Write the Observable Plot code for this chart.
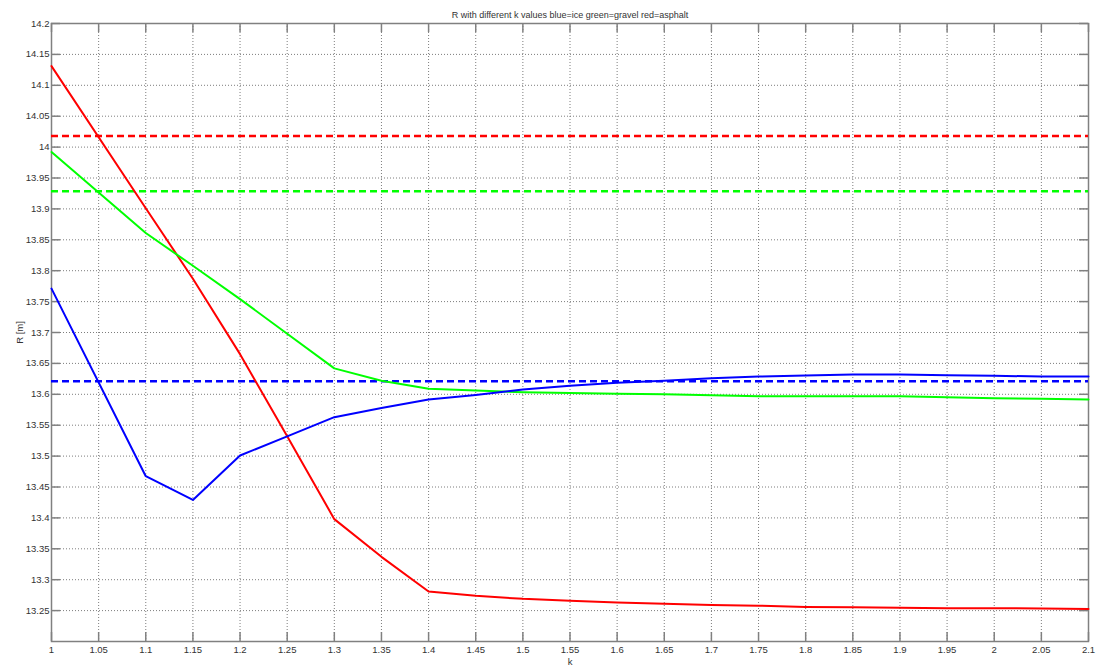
<!DOCTYPE html>
<html><head><meta charset="utf-8">
<script src="https://cdn.jsdelivr.net/npm/d3@7"></script>
<script src="https://cdn.jsdelivr.net/npm/@observablehq/plot@0.6"></script>
<style>body{margin:0;background:#fff} svg{display:block}</style>
</head><body><div id="chart"></div>
<script>
const titleText = "R with different k values blue=ice green=gravel red=asphalt";
const kValues = [1, 1.1, 1.15, 1.2, 1.25, 1.3, 1.35, 1.4, 1.45, 1.5, 1.55, 1.6, 1.65, 1.7, 1.75, 1.8, 1.85, 1.9, 1.95, 2.0, 2.05, 2.1];
const asphaltR = [14.131, 13.901, 13.787, 13.665, 13.532, 13.398, 13.337, 13.281, 13.274, 13.269, 13.266, 13.263, 13.261, 13.259, 13.258, 13.256, 13.2555, 13.2545, 13.254, 13.254, 13.2534, 13.2526];
const gravelR = [13.992, 13.861, 13.808, 13.754, 13.698, 13.642, 13.622, 13.609, 13.606, 13.6034, 13.602, 13.601, 13.600, 13.5985, 13.597, 13.597, 13.597, 13.597, 13.5953, 13.5937, 13.5927, 13.5916];
const iceR = [13.771, 13.4675, 13.429, 13.501, 13.532, 13.563, 13.578, 13.5916, 13.599, 13.6078, 13.614, 13.6186, 13.622, 13.626, 13.6288, 13.6304, 13.632, 13.632, 13.631, 13.630, 13.6288, 13.6288];
const asphaltRef = [14.018];
const gravelRef = [13.9287];
const iceRef = [13.621];
const xTicks = [1, 1.05, 1.1, 1.15, 1.2, 1.25, 1.3, 1.35, 1.4, 1.45, 1.5, 1.55, 1.6, 1.65, 1.7, 1.75, 1.8, 1.85, 1.9, 1.95, 2, 2.05, 2.1];
const yTicks = [13.25, 13.3, 13.35, 13.4, 13.45, 13.5, 13.55, 13.6, 13.65, 13.7, 13.75, 13.8, 13.85, 13.9, 13.95, 14, 14.05, 14.1, 14.15, 14.2];

const W = 1097, H = 666, mL = 51, mR = 9, mT = 23, mB = 25;
const innerW = W - mL - mR, innerH = H - mT - mB;
const rows = (vals) => kValues.map((k, i) => ({k, R: vals[i]}));
const axisColor = "#808080";
const textColor = "#333";
const tickLen = 9;

const chart = Plot.plot({
  width: W, height: H,
  marginLeft: mL, marginRight: mR, marginTop: mT, marginBottom: mB,
  style: {fontFamily: "'Liberation Sans', Arial, sans-serif", fontSize: "9.5px", color: textColor, background: "#fff"},
  x: {domain: [1, 2.1]},
  y: {domain: [13.2, 14.2]},
  marks: [
    Plot.gridX(xTicks, {stroke: "#666", strokeOpacity: 0.85, strokeDasharray: "1,2"}),
    Plot.gridY(yTicks, {stroke: "#666", strokeOpacity: 0.85, strokeDasharray: "1,2"}),
    Plot.tickX(xTicks, {x: d => d, insetTop: innerH - tickLen, stroke: axisColor, strokeWidth: 1.5}),
    Plot.tickX(xTicks, {x: d => d, insetBottom: innerH - tickLen, stroke: axisColor, strokeWidth: 1.5}),
    Plot.tickY(yTicks, {y: d => d, insetRight: innerW - tickLen, stroke: axisColor, strokeWidth: 1.5}),
    Plot.tickY(yTicks, {y: d => d, insetLeft: innerW - tickLen, stroke: axisColor, strokeWidth: 1.5}),
    Plot.frame({stroke: axisColor, strokeWidth: 1.5}),
    Plot.axisX(xTicks, {tickSize: 0, tickPadding: 5, tickFormat: d => String(d), fill: textColor, label: "k", labelAnchor: "center", labelArrow: "none", labelOffset: 23}),
    Plot.axisY(yTicks, {tickSize: 0, tickPadding: 2, tickFormat: d => String(d), fill: textColor, label: "R [m]", labelAnchor: "center", labelArrow: "none", labelOffset: 35}),
    Plot.ruleY(asphaltRef, {y: d => d, stroke: "#ff0000", strokeWidth: 2.5, strokeDasharray: "7,4"}),
    Plot.ruleY(gravelRef, {y: d => d, stroke: "#00ff00", strokeWidth: 2.5, strokeDasharray: "7,4"}),
    Plot.ruleY(iceRef, {y: d => d, stroke: "#0000ff", strokeWidth: 2.5, strokeDasharray: "7,4"}),
    Plot.line(rows(asphaltR), {x: "k", y: "R", stroke: "#ff0000", strokeWidth: 2}),
    Plot.line(rows(gravelR), {x: "k", y: "R", stroke: "#00ff00", strokeWidth: 2}),
    Plot.line(rows(iceR), {x: "k", y: "R", stroke: "#0000ff", strokeWidth: 2}),
    Plot.text([titleText], {frameAnchor: "top", dy: -12, text: d => d, fontSize: 9, fill: textColor})
  ]
});
document.getElementById("chart").appendChild(chart);
</script>
</body></html>
